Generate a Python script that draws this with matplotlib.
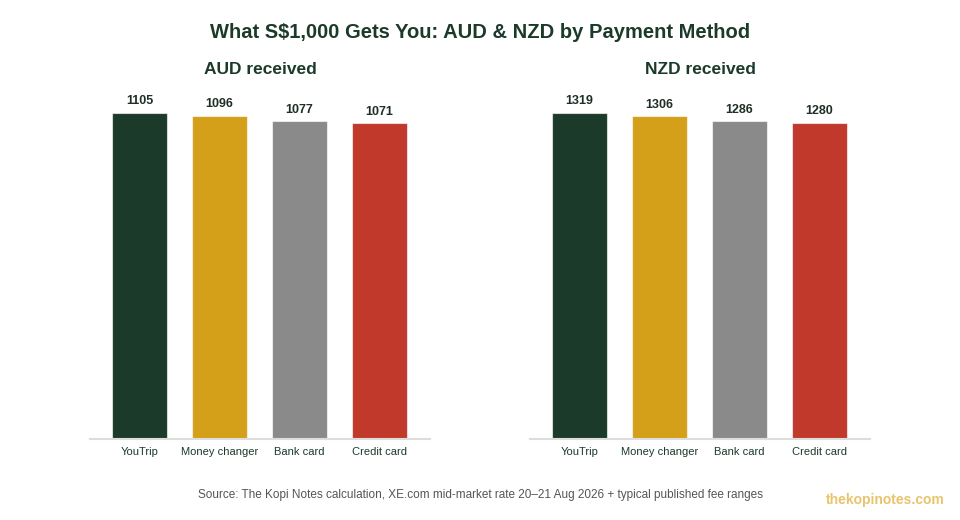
import matplotlib
matplotlib.use("Agg")
import matplotlib.pyplot as plt

categories = ["YouTrip", "Money changer", "Bank card", "Credit card"]
aud_values = [1105, 1096, 1077, 1071]
nzd_values = [1319, 1306, 1286, 1280]
bar_colors = ["#1c3a2a", "#d4a01a", "#8a8a8a", "#c0392b"]

plt.rcParams['font.family'] = ['Liberation Sans', 'DejaVu Sans']

fig = plt.figure(figsize=(9.6, 5.2), dpi=100)
fig.patch.set_facecolor("white")

title_color = "#1c3a2a"
bottom = 1 - 439 / 520
height = 339 / 520
width = 340 / 960
panels = [
    (90 / 960, "AUD received", aud_values),
    (530 / 960, "NZD received", nzd_values),
]

for left, subtitle, vals in panels:
    ax = fig.add_axes([left, bottom, width, height])
    x = list(range(len(categories)))
    ax.bar(x, vals, width=0.6875, color=bar_colors, edgecolor=(1, 1, 1, 0.6), linewidth=0.8)
    ax.set_xlim(-0.62, 3.63)
    ax.set_ylim(0, max(vals) * 1.04)
    for xi, v in zip(x, vals):
        ax.annotate(f"{v}", (xi, v), xytext=(0, 4), textcoords="offset points",
                    ha="center", va="bottom", fontsize=9, fontweight="bold", color="#1f2f25")
    ax.set_xticks(x)
    ax.set_xticklabels(categories, fontsize=8, color="#1c3a2a")
    ax.tick_params(axis="x", length=0, pad=6)
    ax.set_yticks([])
    for s in ["top", "right", "left"]:
        ax.spines[s].set_visible(False)
    ax.spines["bottom"].set_color("#dddddd")
    ax.spines["bottom"].set_linewidth(1.5)
    fig.text(left + width / 2, 1 - 69 / 520, subtitle, ha="center", va="center",
             fontsize=12.5, fontweight="bold", color=title_color)

fig.text(0.5, 1 - 33 / 520, "What S$1,000 Gets You: AUD & NZD by Payment Method",
         ha="center", va="center", fontsize=14.5, fontweight="bold", color=title_color)
fig.text(480 / 960, 1 - 495 / 520,
         "Source: The Kopi Notes calculation, XE.com mid-market rate 20\u201321 Aug 2026 + typical published fee ranges",
         ha="center", va="center", fontsize=8.5, color="#555555")
fig.text(885 / 960, 1 - 500 / 520, "thekopinotes.com", ha="center", va="center",
         fontsize=10, fontweight="bold", color="#e8c46a")

fig.savefig("out.png", dpi=100, facecolor="white")
